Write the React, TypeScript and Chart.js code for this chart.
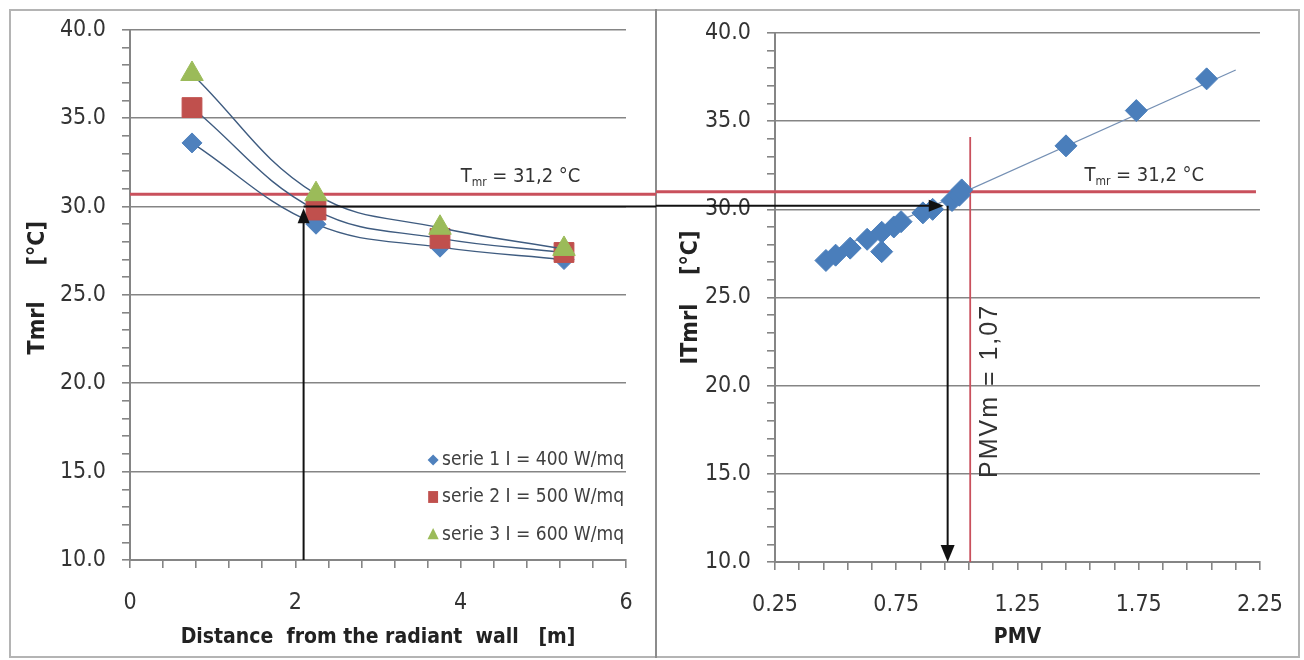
import React, { useEffect, useRef } from "react";
import { Chart, registerables } from "chart.js";

Chart.register(...registerables);

// ---------------- data ----------------
const distance = [0.75, 2.25, 3.75, 5.25];
const serie1 = [33.6, 29.0, 27.7, 27.0];
const serie2 = [35.6, 29.8, 28.2, 27.4];
const serie3 = [37.5, 30.7, 28.8, 27.6];
const seriesLabels = ["serie 1 I = 400 W/mq", "serie 2 I = 500 W/mq", "serie 3 I = 600 W/mq"];

const pmv = [0.46, 0.5, 0.56, 0.63, 0.69, 0.69, 0.74, 0.77, 0.86, 0.9, 0.98, 1.01, 1.02, 1.45, 1.74, 2.03];
const tmrlPmv = [27.1, 27.4, 27.8, 28.3, 28.7, 27.6, 29.0, 29.3, 29.8, 30.0, 30.5, 30.8, 31.1, 33.6, 35.6, 37.4];
const trendPmv = [0.45, 2.15];
const trendTmrl = [27.4, 37.9];

// axes / ticks
const leftXTicks = [0, 2, 4, 6];
const leftXMinorStep = 0.4;
const rightXTicks = [0.25, 0.75, 1.25, 1.75, 2.25];
const rightXMinorStep = 0.1;
const yTicks = [10, 15, 20, 25, 30, 35, 40];
const yMinorStep = 1;

// reference lines and readings
const tmrLeft = 30.7;
const tmrRight = 31.0;
const tmrText = " = 31,2 °C";
const tmrLabelLeft = { x: 4.0, y: 31.4 };
const tmrLabelRight = { x: 1.526, y: 31.6 };
const readDistance = 2.1;
const readTipLeft = 29.9;
const readTmrlLeft = 30.0;
const readTmrlRight = 30.2;
const readPmvTip = 0.946;
const readPmv = 0.962;
const pmvm = 1.055;
const pmvmTop = 34.1;
const pmvmLabel = "PMVm = 1,07";
const pmvmLabelPos = { x: 1.138, y: 19.7 };

// ---------------- styles ----------------
const FONT = "'DejaVu Sans Condensed', 'Liberation Sans Narrow', sans-serif";
const FONT_WIDE = "'Liberation Sans', Arial, sans-serif";
const TEXT = "#333333";
const GRID = "#858585";
const RED = "#c9505c";
const BLUE = "#4f81bd";
const REDM = "#c0504d";
const GREEN = "#9bbb59";
const CURVE = "#3f5c80";
const CLEAR = "rgba(0,0,0,0)";

const range = (min: number, max: number, step: number) => {
  const out: number[] = [];
  const n = Math.round((max - min) / step);
  for (let i = 0; i <= n; i++) out.push(Math.round((min + i * step) * 1000) / 1000);
  return out;
};
const has = (arr: number[], v: number) => arr.some((a) => Math.abs(a - v) < 1e-6);

function arrowHead(ctx: CanvasRenderingContext2D, x: number, y: number, dir: string, len: number, half: number) {
  ctx.beginPath();
  if (dir === "up") {
    ctx.moveTo(x, y); ctx.lineTo(x - half, y + len); ctx.lineTo(x + half, y + len);
  } else if (dir === "down") {
    ctx.moveTo(x, y); ctx.lineTo(x - half, y - len); ctx.lineTo(x + half, y - len);
  } else {
    ctx.moveTo(x, y); ctx.lineTo(x - len, y - half); ctx.lineTo(x - len, y + half);
  }
  ctx.closePath();
  ctx.fill();
}

function marker(ctx: CanvasRenderingContext2D, style: string, x: number, y: number, r: number) {
  ctx.beginPath();
  if (style === "rectRot") {
    ctx.moveTo(x, y - r); ctx.lineTo(x + r, y); ctx.lineTo(x, y + r); ctx.lineTo(x - r, y);
  } else if (style === "rect") {
    const s = r * Math.SQRT1_2;
    ctx.rect(x - s, y - s * 1.2, 2 * s, 2.4 * s);
  } else {
    ctx.moveTo(x, y - r); ctx.lineTo(x + r * 0.8, y + r * 0.6); ctx.lineTo(x - r * 0.8, y + r * 0.6);
  }
  ctx.closePath();
  ctx.fill();
}

function drawTmr(ctx: CanvasRenderingContext2D, x: number, y: number) {
  ctx.save();
  ctx.fillStyle = TEXT;
  ctx.textAlign = "left";
  ctx.textBaseline = "alphabetic";
  ctx.font = `20px ${FONT}`;
  ctx.fillText("T", x, y);
  let cx = x + ctx.measureText("T").width;
  ctx.font = `12px ${FONT}`;
  ctx.fillText("mr", cx, y + 4);
  cx += ctx.measureText("mr").width;
  ctx.font = `20px ${FONT}`;
  ctx.fillText(tmrText, cx, y);
  ctx.restore();
}

function yScale(width: number, title: string, titlePad: number) {
  return {
    type: "linear",
    min: 10,
    max: 40,
    afterBuildTicks: (s: any) => {
      s.ticks = range(10, 40, yMinorStep).map((v) => ({ value: v }));
    },
    afterFit: (s: any) => {
      s.width = width;
    },
    ticks: {
      autoSkip: false,
      padding: 16,
      color: TEXT,
      font: { family: FONT, size: 23 },
      callback: (v: number) => (has(yTicks, v) ? Number(v).toFixed(1) : ""),
    },
    grid: {
      color: (c: any) => (c.tick && has(yTicks, c.tick.value) ? GRID : CLEAR),
      tickColor: GRID,
      tickLength: 8,
      lineWidth: 1.6,
    },
    border: { color: GRID, width: 2 },
    title: {
      display: true,
      text: title,
      color: "#222",
      font: { family: FONT, size: 23, weight: "bold" },
      padding: { top: titlePad, bottom: 0 },
    },
  };
}

function xScale(min: number, max: number, step: number, labels: number[], digits: number, height: number, title: string) {
  return {
    type: "linear",
    min,
    max,
    afterBuildTicks: (s: any) => {
      s.ticks = range(min, max, step).map((v) => ({ value: v }));
    },
    afterFit: (s: any) => {
      s.height = height;
    },
    ticks: {
      autoSkip: false,
      maxRotation: 0,
      padding: 21,
      color: TEXT,
      font: { family: FONT, size: 23 },
      callback: (v: number) => (has(labels, v) ? Number(v).toFixed(digits) : ""),
    },
    grid: {
      drawOnChartArea: false,
      color: GRID,
      tickColor: GRID,
      tickLength: 8,
      lineWidth: 1.6,
    },
    border: { color: GRID, width: 2 },
    title: {
      display: true,
      text: title,
      color: "#222",
      font: { family: FONT, size: 21, weight: "bold" },
      padding: { top: 0, bottom: 10 },
    },
  };
}

const leftPlugin = {
  id: "leftAnno",
  beforeDatasetsDraw(chart: any) {
    const { ctx, chartArea, scales } = chart;
    const y = scales.y;
    ctx.save();
    ctx.strokeStyle = RED;
    ctx.lineWidth = 3;
    const yr = y.getPixelForValue(tmrLeft);
    ctx.beginPath();
    ctx.moveTo(chartArea.left, yr);
    ctx.lineTo(chart.width, yr);
    ctx.stroke();
    ctx.restore();
  },
  afterDatasetsDraw(chart: any) {
    const { ctx, chartArea, scales } = chart;
    const { x, y } = scales;
    ctx.save();
    ctx.strokeStyle = "#111";
    ctx.fillStyle = "#111";
    ctx.lineWidth = 2;
    const xa = x.getPixelForValue(readDistance);
    const yb = y.getPixelForValue(10);
    const yt = y.getPixelForValue(readTipLeft);
    ctx.beginPath();
    ctx.moveTo(xa, yb);
    ctx.lineTo(xa, yt + 10);
    ctx.stroke();
    arrowHead(ctx, xa, yt, "up", 15, 6);
    const yh = y.getPixelForValue(readTmrlLeft);
    ctx.beginPath();
    ctx.moveTo(xa, yh);
    ctx.lineTo(chart.width, yh);
    ctx.stroke();
    ctx.restore();

    drawTmr(ctx, x.getPixelForValue(tmrLabelLeft.x), y.getPixelForValue(tmrLabelLeft.y));

    // legend
    ctx.save();
    ctx.font = `19px ${FONT}`;
    ctx.textAlign = "right";
    ctx.textBaseline = "middle";
    const rows = [100, 63, 25];
    const sizes = [5.5, 7, 7];
    chart.data.datasets.slice(0, 3).forEach((ds: any, i: number) => {
      const cy = chartArea.bottom - rows[i];
      const tx = chartArea.right - 2;
      ctx.fillStyle = "#404040";
      ctx.fillText(ds.label, tx, cy);
      const w = ctx.measureText(ds.label).width;
      ctx.fillStyle = ds.pointBackgroundColor;
      marker(ctx, ds.pointStyle, tx - w - 9, cy, sizes[i]);
    });
    ctx.restore();
  },
};

const rightPlugin = {
  id: "rightAnno",
  beforeDatasetsDraw(chart: any) {
    const { ctx, chartArea, scales } = chart;
    const { x, y } = scales;
    ctx.save();
    ctx.strokeStyle = RED;
    ctx.lineWidth = 3;
    const yr = y.getPixelForValue(tmrRight);
    ctx.beginPath();
    ctx.moveTo(0, yr);
    ctx.lineTo(chartArea.right - 4, yr);
    ctx.stroke();
    ctx.lineWidth = 1.8;
    const xr = x.getPixelForValue(pmvm);
    ctx.beginPath();
    ctx.moveTo(xr, y.getPixelForValue(10));
    ctx.lineTo(xr, y.getPixelForValue(pmvmTop));
    ctx.stroke();
    ctx.restore();
  },
  afterDatasetsDraw(chart: any) {
    const { ctx, scales } = chart;
    const { x, y } = scales;
    ctx.save();
    ctx.strokeStyle = "#111";
    ctx.fillStyle = "#111";
    ctx.lineWidth = 2;
    const yh = y.getPixelForValue(readTmrlRight);
    const xt = x.getPixelForValue(readPmvTip);
    ctx.beginPath();
    ctx.moveTo(0, yh);
    ctx.lineTo(xt - 10, yh);
    ctx.stroke();
    arrowHead(ctx, xt, yh, "right", 15, 6);
    const xv = x.getPixelForValue(readPmv);
    const yb = y.getPixelForValue(10);
    ctx.beginPath();
    ctx.moveTo(xv, yh);
    ctx.lineTo(xv, yb - 10);
    ctx.stroke();
    arrowHead(ctx, xv, yb, "down", 17, 7);
    ctx.restore();

    drawTmr(ctx, x.getPixelForValue(tmrLabelRight.x), y.getPixelForValue(tmrLabelRight.y));

    ctx.save();
    ctx.translate(x.getPixelForValue(pmvmLabelPos.x), y.getPixelForValue(pmvmLabelPos.y));
    ctx.rotate(-Math.PI / 2);
    ctx.font = `25px ${FONT_WIDE}`;
    (ctx as any).letterSpacing = "2px";
    ctx.fillStyle = TEXT;
    ctx.textAlign = "center";
    ctx.textBaseline = "middle";
    ctx.fillText(pmvmLabel, 0, 0);
    ctx.restore();
  },
};

export default function App() {
  const leftRef = useRef<HTMLCanvasElement>(null);
  const rightRef = useRef<HTMLCanvasElement>(null);

  useEffect(() => {
    const mk = (xs: number[], ys: number[]) => xs.map((v, i) => ({ x: v, y: ys[i] }));
    const common = {
      showLine: true,
      tension: 0.4,
      borderColor: CURVE,
      borderWidth: 1.4,
      pointBorderWidth: 1,
    };
    const left = new Chart(leftRef.current as HTMLCanvasElement, {
      type: "scatter",
      data: {
        datasets: [
          { ...common, label: seriesLabels[0], data: mk(distance, serie1), pointStyle: "rectRot", pointRadius: 10, pointBackgroundColor: BLUE, pointBorderColor: BLUE, order: 3 },
          { ...common, label: seriesLabels[1], data: mk(distance, serie2), pointStyle: "rect", pointRadius: 14, pointBackgroundColor: REDM, pointBorderColor: REDM, order: 2 },
          { ...common, label: seriesLabels[2], data: mk(distance, serie3), pointStyle: "triangle", pointRadius: 13, pointBackgroundColor: GREEN, pointBorderColor: GREEN, order: 1 },
        ] as any,
      },
      options: {
        animation: false,
        responsive: false,
        layout: { padding: { top: 29, right: 30, left: 0, bottom: 0 } },
        plugins: { legend: { display: false }, tooltip: { enabled: false } },
        scales: {
          x: xScale(0, 6, leftXMinorStep, leftXTicks, 0, 100, "Distance  from the radiant  wall   [m]") as any,
          y: yScale(130, "  Tmrl     [°C]", 24) as any,
        },
      },
      plugins: [leftPlugin],
    });

    const right = new Chart(rightRef.current as HTMLCanvasElement, {
      type: "scatter",
      data: {
        datasets: [
          { label: "PMV", data: mk(pmv, tmrlPmv), showLine: false, pointStyle: "rectRot", pointRadius: 11, pointBackgroundColor: "#4a7ebb", pointBorderColor: "#4a7ebb", pointBorderWidth: 1, order: 1 },
          { label: "trend", data: mk(trendPmv, trendTmrl), showLine: true, pointRadius: 0, borderColor: "#7590b4", borderWidth: 1.3, order: 2 },
        ] as any,
      },
      options: {
        animation: false,
        responsive: false,
        layout: { padding: { top: 33, right: 28, left: 0, bottom: 0 } },
        plugins: { legend: { display: false }, tooltip: { enabled: false } },
        scales: {
          x: xScale(0.25, 2.25, rightXMinorStep, rightXTicks, 2, 98, "PMV") as any,
          y: yScale(119, "ITmrl    [°C]", 21) as any,
        },
      },
      plugins: [rightPlugin],
    });

    return () => {
      left.destroy();
      right.destroy();
    };
  }, []);

  return (
    <div style={{ position: "fixed", left: 0, top: 0, width: 1304, height: 660, background: "#fff", overflow: "hidden" }}>
      <div style={{ position: "absolute", left: 9, top: 9, width: 1291, height: 649, border: "2px solid #b4b4b4", boxSizing: "border-box" }} />
      <div style={{ position: "absolute", left: 655, top: 9, width: 2, height: 649, background: "#8c8c8c" }} />
      <canvas ref={leftRef} width={656} height={660} style={{ position: "absolute", left: 0, top: 0, width: 656, height: 660 }} />
      <canvas ref={rightRef} width={648} height={660} style={{ position: "absolute", left: 656, top: 0, width: 648, height: 660 }} />
    </div>
  );
}
